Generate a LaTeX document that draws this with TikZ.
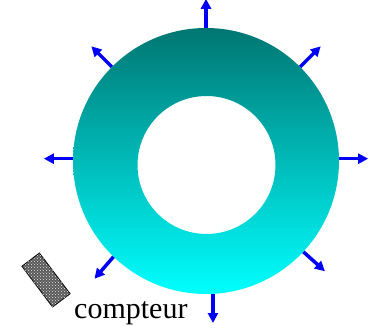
\documentclass[tikz,border=0pt]{standalone}
\usepackage{fontspec}
\setmainfont{Liberation Serif}
\usepackage{tikz}
\usetikzlibrary{arrows.meta,positioning,patterns,calc}
\usepackage{xcolor}
\definecolor{ringtop}{RGB}{0,118,114}
\definecolor{ringbottom}{RGB}{0,255,255}
\definecolor{rayblue}{RGB}{0,0,245}
\tikzset{
  ray/.style={
    -{Triangle[length=10pt,width=10pt]},
    line width=3.5pt,
    draw=rayblue
  },
  detector/.style={
    draw=black,
    thick,
    fill=gray!70!black,
    minimum width=51pt,
    minimum height=22pt,
    rotate=-53,
    postaction={pattern=crosshatch dots, pattern color=white!85!gray}
  },
  labeltext/.style={
    font=\fontsize{30}{34}\selectfont,
    inner sep=0pt,
    anchor=base west
  }
}

\begin{document}
\begin{tikzpicture}[x=1pt,y=-1pt]
\useasboundingbox (0,0) rectangle (371,329);
% ring source
\coordinate (c) at (206,161);
\coordinate (h) at (206.5,165);
\shade[top color=ringtop, bottom color=ringbottom, even odd rule]
  (c) circle (133) (h) circle (69);
\node[circle, minimum size=266pt, inner sep=0pt] (ring) at (c) {};
% emitted rays
\foreach \a/\d [count=\i] in {90/90, 45/45, 135/135, 179/180, 1/0, 226/229, -43/-42, -87/-90}{
  \coordinate (tip\i) at ($(ring.\a)+(\d:29pt)$);
  \draw[ray] (ring.\a) -- (tip\i);
}
% detector
\node[detector] (cpt) at (46,280) {};
\node[labeltext] (cptlabel) at (74,318) {compteur};
\end{tikzpicture}
\end{document}
